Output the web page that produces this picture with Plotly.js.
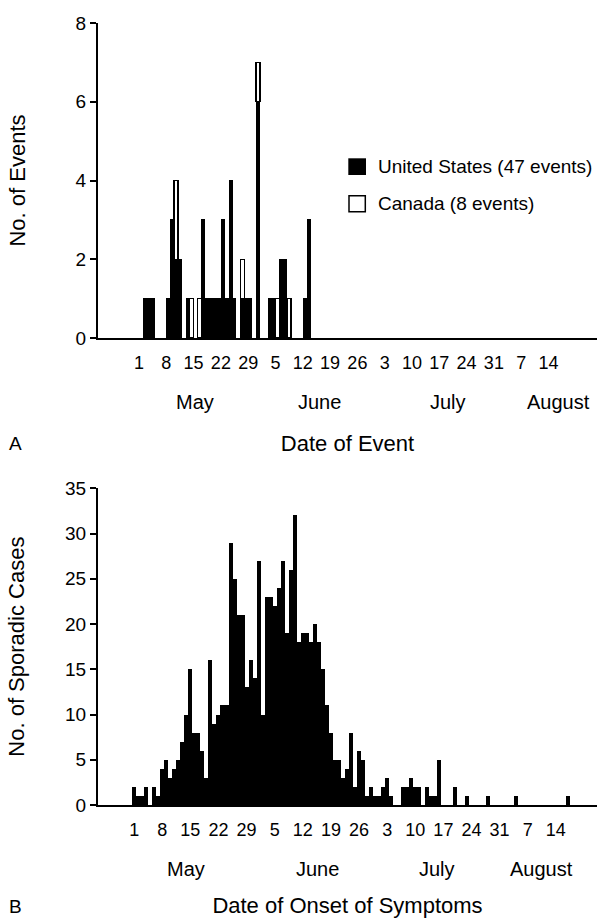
<!DOCTYPE html>
<html><head><meta charset="utf-8">
<script src="https://cdn.plot.ly/plotly-3.0.1.min.js"></script>
<style>html,body{margin:0;padding:0;background:#fff}#chart{width:599px;height:922px}</style>
</head><body><div id="chart"></div>
<script>
// ---------- Panel A: events (day index, 0 = May 1) ----------
const eventDays    = [1,2,3,7,8,9,10,12,13,15,16,17,18,19,20,21,22,23,24,26,27,28,30,33,34,35,36,37,38,42,43];
const usEvents     = [1,1,1,1,3,2,2,1,0,0,3,1,1,1,1,3,1,4,1,1,1,1,6,1,1,0,2,2,0,1,3];
const canadaEvents = [0,0,0,0,0,2,0,0,1,1,0,0,0,0,0,0,0,0,0,1,0,0,1,0,0,1,0,0,1,0,0];

// ---------- Panel B: sporadic cases by onset day (index 0 = May 1) ----------
const sporadicCases = [2,1,1,2,0,2,1,4,5,3,4,5,7,10,15,8,8,6,3,16,9,10,11,11,29,25,21,21,13,16,
  14,27,10,23,23,22,24,27,19,26,32,18,19,19,18,20,18,15,11,8,5,5,3,4,8,2,6,5,1,2,
  1,1,2,3,1,0,0,2,2,3,2,2,0,2,1,1,5,0,0,0,2,0,0,1,0,0,0,0,1,0,
  0,0,0,0,0,1,0,0,0,0,0,0,0,0,0,0,0,0,1];
const onsetDays = sporadicCases.map((v,i)=>i);

// ---------- ticks & labels ----------
const tickDays   = [0,7,14,21,28,35,42,49,56,63,70,77,84,91,98,105];
const tickLabels = ['1','8','15','22','29','5','12','19','26','3','10','17','24','31','7','14'];
const monthLabels = ['May','June','July','August'];
const legendLabels = ['United States (47 events)','Canada (8 events)'];

// ---------- geometry (pixels) ----------
const W=599,H=922,L=98,R=2,T=23,B=117;
const plotW=W-L-R, plotH=H-T-B;
const px = x => (x-L)/plotW;
const py = y => (H-B-y)/plotH;
const FONT = 'Liberation Sans, Arial, Helvetica, sans-serif';

function label(text, x, y, size, xanchor){
  return {text:text, xref:'paper', yref:'paper', x:px(x), y:py(y), xanchor:xanchor||'center',
          yanchor:'middle', showarrow:false, font:{size:size}};
}

const traces = [
  {type:'bar', x:eventDays, y:usEvents, xaxis:'x', yaxis:'y', width:1, offset:0,
   marker:{color:'#000', line:{width:0}}, name:legendLabels[0], showlegend:false},
  {type:'bar', x:eventDays, y:canadaEvents, xaxis:'x', yaxis:'y', width:1, offset:0,
   marker:{color:'#fff', line:{color:'#000', width:1.3}}, name:legendLabels[1], showlegend:false},
  {type:'bar', x:onsetDays, y:sporadicCases, xaxis:'x2', yaxis:'y2', width:1,
   marker:{color:'#000', line:{width:0}}, showlegend:false}
];

const xCommon = {tickvals:tickDays, ticktext:tickLabels, ticks:'', showgrid:false, zeroline:false,
  showline:true, linecolor:'#000', linewidth:2, tickfont:{size:18,color:'#000'}, ticklabelstandoff:7,
  automargin:false};
const yCommon = {ticks:'outside', ticklen:6, tickwidth:2, tickcolor:'#000', showgrid:false, zeroline:false,
  showline:true, linecolor:'#000', linewidth:2, tickfont:{size:19,color:'#000'}, automargin:false};

const layout = {
  width:W, height:H, margin:{l:L,r:R,t:T,b:B}, paper_bgcolor:'#fff', plot_bgcolor:'#fff',
  font:{family:FONT, color:'#000'}, barmode:'stack', bargap:0,
  xaxis:Object.assign({}, xCommon, {anchor:'y', range:[-10.51,117.44],
    title:{text:'Date of Event', font:{size:22}, standoff:64}}),
  yaxis:Object.assign({}, yCommon, {domain:[py(338),1], range:[0,8], tickvals:[0,2,4,6,8], anchor:'x',
    title:{text:'No. of Events', font:{size:22}, standoff:44}}),
  xaxis2:Object.assign({}, xCommon, {anchor:'y2', range:[-9,115.25],
    title:{text:'Date of Onset of Symptoms', font:{size:22}, standoff:59}}),
  yaxis2:Object.assign({}, yCommon, {domain:[0,py(488.3)], range:[0,35], dtick:5, anchor:'x2',
    title:{text:'No. of Sporadic Cases', font:{size:22}, standoff:34}}),
  shapes:[
    {type:'rect', xref:'paper', yref:'paper', x0:px(348.3), x1:px(366), y0:py(175), y1:py(158.3),
     fillcolor:'#000', line:{width:0}},
    {type:'rect', xref:'paper', yref:'paper', x0:px(349), x1:px(365.3), y0:py(211.7), y1:py(195.7),
     fillcolor:'#fff', line:{color:'#000', width:1.5}}
  ],
  annotations:[
    label(legendLabels[0], 376, 166.7, 19, 'left'),
    label(legendLabels[1], 376, 203.5, 19, 'left'),
    // month labels, panel A
    label(monthLabels[0], 195, 402, 20),
    label(monthLabels[1], 319.5, 402, 20),
    label(monthLabels[2], 448, 402, 20),
    label(monthLabels[3], 558, 402, 20),
    // month labels, panel B
    label(monthLabels[0], 186, 869, 20),
    label(monthLabels[1], 317, 869, 20),
    label(monthLabels[2], 437, 869, 20),
    label(monthLabels[3], 541, 869, 20),
    // panel letters
    label('A', 15, 443, 19),
    label('B', 15, 906, 19)
  ]
};

Plotly.newPlot('chart', traces, layout, {staticPlot:true, displayModeBar:false});
</script>
</body></html>
